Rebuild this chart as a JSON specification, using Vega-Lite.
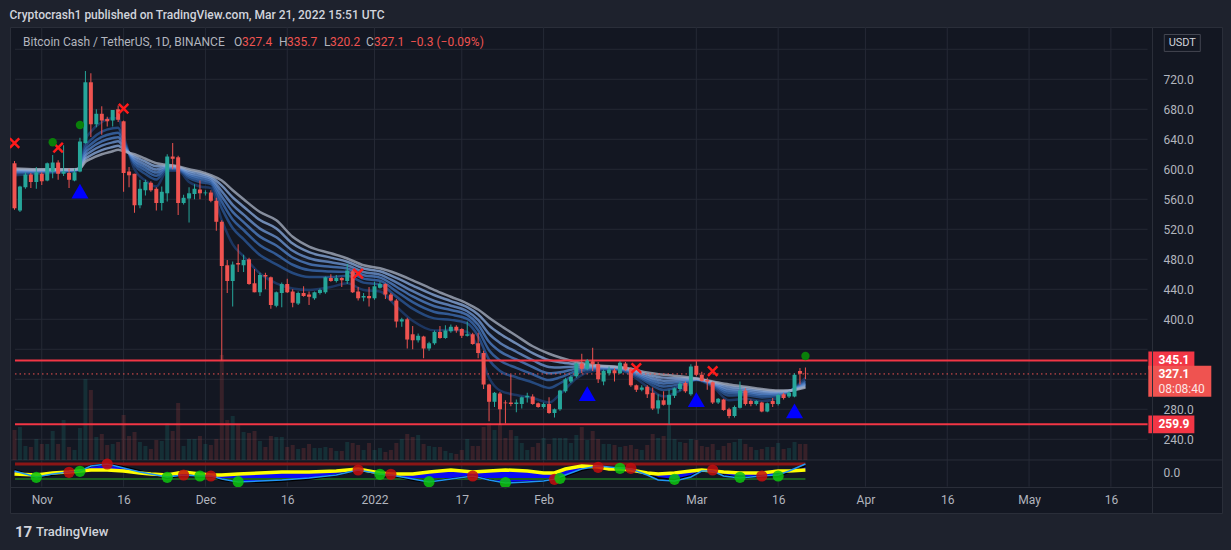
{
  "$schema": "https://vega.github.io/schema/vega-lite/v6.json",
  "width": 1212,
  "height": 486,
  "autosize": "none",
  "padding": {"left": 10, "top": 27, "right": 9, "bottom": 37},
  "background": "#1e222d",
  "title": {
    "text": "Cryptocrash1 published on TradingView.com, Mar 21, 2022 15:51 UTC",
    "anchor": "start", "color": "#d1d4dc", "font": "Roboto", "fontSize": 12, "fontWeight": 500, "offset": 8, "dy": 3
  },
  "config": {
    "font": "Roboto",
    "view": {"stroke": "#2a2e39", "fill": "#131722"}
  },
  "data": {"values": [{}]},
  "datasets": {
    "candles": [
      {"d":"2021-10-27","o":608,"h":611,"l":546,"c":548,"v":30},
      {"d":"2021-10-28","o":545,"h":578,"l":543,"c":577,"v":33},
      {"d":"2021-10-29","o":576,"h":596,"l":574,"c":593,"v":14},
      {"d":"2021-10-30","o":593,"h":595,"l":575,"c":583,"v":13},
      {"d":"2021-10-31","o":583,"h":603,"l":574,"c":596,"v":21},
      {"d":"2021-11-01","o":594,"h":596,"l":579,"c":584,"v":16},
      {"d":"2021-11-02","o":585,"h":609,"l":584,"c":608,"v":16},
      {"d":"2021-11-03","o":597,"h":619,"l":588,"c":609,"v":29},
      {"d":"2021-11-04","o":609,"h":612,"l":586,"c":594,"v":16},
      {"d":"2021-11-05","o":594,"h":632,"l":591,"c":597,"v":40},
      {"d":"2021-11-06","o":595,"h":601,"l":575,"c":586,"v":13},
      {"d":"2021-11-07","o":585,"h":601,"l":584,"c":596,"v":10},
      {"d":"2021-11-08","o":597,"h":642,"l":596,"c":637,"v":32},
      {"d":"2021-11-09","o":635,"h":731,"l":634,"c":716,"v":81},
      {"d":"2021-11-10","o":716,"h":728,"l":643,"c":660,"v":70},
      {"d":"2021-11-11","o":660,"h":680,"l":656,"c":674,"v":23},
      {"d":"2021-11-12","o":674,"h":684,"l":646,"c":665,"v":26},
      {"d":"2021-11-13","o":667,"h":670,"l":657,"c":664,"v":15},
      {"d":"2021-11-14","o":665,"h":679,"l":657,"c":679,"v":16},
      {"d":"2021-11-15","o":680,"h":685,"l":663,"c":666,"v":18},
      {"d":"2021-11-16","o":664,"h":665,"l":570,"c":595,"v":45},
      {"d":"2021-11-17","o":597,"h":603,"l":576,"c":592,"v":24},
      {"d":"2021-11-18","o":594,"h":594,"l":542,"c":552,"v":28},
      {"d":"2021-11-19","o":552,"h":586,"l":548,"c":574,"v":18},
      {"d":"2021-11-20","o":572,"h":586,"l":565,"c":583,"v":14},
      {"d":"2021-11-21","o":582,"h":584,"l":570,"c":572,"v":11},
      {"d":"2021-11-22","o":574,"h":576,"l":545,"c":555,"v":20},
      {"d":"2021-11-23","o":555,"h":577,"l":545,"c":570,"v":19},
      {"d":"2021-11-24","o":568,"h":620,"l":557,"c":617,"v":37},
      {"d":"2021-11-25","o":617,"h":635,"l":600,"c":614,"v":29},
      {"d":"2021-11-26","o":616,"h":618,"l":539,"c":555,"v":57},
      {"d":"2021-11-27","o":555,"h":566,"l":553,"c":562,"v":14},
      {"d":"2021-11-28","o":561,"h":576,"l":529,"c":568,"v":21},
      {"d":"2021-11-29","o":567,"h":580,"l":560,"c":574,"v":21},
      {"d":"2021-11-30","o":573,"h":585,"l":560,"c":568,"v":24},
      {"d":"2021-12-01","o":568,"h":572,"l":565,"c":569,"v":16},
      {"d":"2021-12-02","o":569,"h":572,"l":556,"c":558,"v":15},
      {"d":"2021-12-03","o":558,"h":562,"l":518,"c":530,"v":21},
      {"d":"2021-12-04","o":530,"h":532,"l":345,"c":471,"v":105},
      {"d":"2021-12-05","o":472,"h":479,"l":435,"c":451,"v":40},
      {"d":"2021-12-06","o":451,"h":477,"l":417,"c":473,"v":44},
      {"d":"2021-12-07","o":475,"h":500,"l":463,"c":473,"v":35},
      {"d":"2021-12-08","o":472,"h":486,"l":463,"c":479,"v":28},
      {"d":"2021-12-09","o":480,"h":482,"l":446,"c":447,"v":27},
      {"d":"2021-12-10","o":448,"h":467,"l":436,"c":436,"v":29},
      {"d":"2021-12-11","o":436,"h":462,"l":431,"c":459,"v":19},
      {"d":"2021-12-12","o":459,"h":462,"l":440,"c":457,"v":13},
      {"d":"2021-12-13","o":456,"h":457,"l":414,"c":419,"v":24},
      {"d":"2021-12-14","o":418,"h":437,"l":416,"c":436,"v":23},
      {"d":"2021-12-15","o":435,"h":449,"l":416,"c":447,"v":23},
      {"d":"2021-12-16","o":447,"h":454,"l":435,"c":436,"v":13},
      {"d":"2021-12-17","o":437,"h":440,"l":416,"c":422,"v":15},
      {"d":"2021-12-18","o":421,"h":437,"l":419,"c":435,"v":11},
      {"d":"2021-12-19","o":435,"h":444,"l":430,"c":431,"v":12},
      {"d":"2021-12-20","o":433,"h":437,"l":419,"c":430,"v":16},
      {"d":"2021-12-21","o":428,"h":437,"l":426,"c":436,"v":12},
      {"d":"2021-12-22","o":435,"h":441,"l":433,"c":439,"v":12},
      {"d":"2021-12-23","o":436,"h":457,"l":434,"c":456,"v":13},
      {"d":"2021-12-24","o":455,"h":460,"l":450,"c":451,"v":12},
      {"d":"2021-12-25","o":451,"h":459,"l":449,"c":455,"v":9},
      {"d":"2021-12-26","o":455,"h":456,"l":443,"c":452,"v":9},
      {"d":"2021-12-27","o":451,"h":474,"l":447,"c":465,"v":18},
      {"d":"2021-12-28","o":464,"h":466,"l":435,"c":436,"v":17},
      {"d":"2021-12-29","o":437,"h":443,"l":425,"c":428,"v":15},
      {"d":"2021-12-30","o":429,"h":435,"l":424,"c":431,"v":10},
      {"d":"2021-12-31","o":431,"h":443,"l":417,"c":428,"v":17},
      {"d":"2022-01-01","o":428,"h":450,"l":426,"c":444,"v":10},
      {"d":"2022-01-02","o":442,"h":450,"l":441,"c":447,"v":12},
      {"d":"2022-01-03","o":447,"h":448,"l":427,"c":433,"v":8},
      {"d":"2022-01-04","o":433,"h":435,"l":424,"c":425,"v":10},
      {"d":"2022-01-05","o":425,"h":427,"l":389,"c":397,"v":17},
      {"d":"2022-01-06","o":397,"h":402,"l":390,"c":400,"v":21},
      {"d":"2022-01-07","o":400,"h":402,"l":361,"c":373,"v":26},
      {"d":"2022-01-08","o":380,"h":391,"l":360,"c":372,"v":23},
      {"d":"2022-01-09","o":372,"h":381,"l":369,"c":378,"v":25},
      {"d":"2022-01-10","o":377,"h":378,"l":348,"c":361,"v":16},
      {"d":"2022-01-11","o":361,"h":370,"l":358,"c":368,"v":14},
      {"d":"2022-01-12","o":368,"h":385,"l":366,"c":383,"v":13},
      {"d":"2022-01-13","o":383,"h":391,"l":374,"c":375,"v":13},
      {"d":"2022-01-14","o":375,"h":392,"l":374,"c":385,"v":9},
      {"d":"2022-01-15","o":384,"h":393,"l":382,"c":390,"v":7},
      {"d":"2022-01-16","o":390,"h":392,"l":382,"c":385,"v":6},
      {"d":"2022-01-17","o":387,"h":388,"l":375,"c":378,"v":10},
      {"d":"2022-01-18","o":378,"h":397,"l":377,"c":380,"v":21},
      {"d":"2022-01-19","o":380,"h":382,"l":366,"c":367,"v":14},
      {"d":"2022-01-20","o":368,"h":382,"l":348,"c":355,"v":14},
      {"d":"2022-01-21","o":355,"h":358,"l":307,"c":313,"v":33},
      {"d":"2022-01-22","o":313,"h":314,"l":264,"c":290,"v":37},
      {"d":"2022-01-23","o":290,"h":303,"l":283,"c":302,"v":30},
      {"d":"2022-01-24","o":301,"h":303,"l":259,"c":280,"v":35},
      {"d":"2022-01-25","o":289,"h":292,"l":261,"c":288,"v":22},
      {"d":"2022-01-26","o":289,"h":326,"l":284,"c":287,"v":30},
      {"d":"2022-01-27","o":287,"h":293,"l":276,"c":289,"v":24},
      {"d":"2022-01-28","o":287,"h":297,"l":281,"c":296,"v":17},
      {"d":"2022-01-29","o":296,"h":302,"l":289,"c":298,"v":10},
      {"d":"2022-01-30","o":297,"h":300,"l":286,"c":287,"v":13},
      {"d":"2022-01-31","o":288,"h":289,"l":282,"c":283,"v":17},
      {"d":"2022-02-01","o":283,"h":289,"l":281,"c":287,"v":22},
      {"d":"2022-02-02","o":287,"h":296,"l":274,"c":275,"v":16},
      {"d":"2022-02-03","o":275,"h":281,"l":269,"c":280,"v":22},
      {"d":"2022-02-04","o":280,"h":306,"l":278,"c":305,"v":22},
      {"d":"2022-02-05","o":304,"h":322,"l":302,"c":320,"v":22},
      {"d":"2022-02-06","o":317,"h":325,"l":315,"c":323,"v":17},
      {"d":"2022-02-07","o":324,"h":342,"l":322,"c":341,"v":25},
      {"d":"2022-02-08","o":341,"h":354,"l":328,"c":334,"v":33},
      {"d":"2022-02-09","o":334,"h":347,"l":332,"c":345,"v":20},
      {"d":"2022-02-10","o":344,"h":362,"l":331,"c":340,"v":29},
      {"d":"2022-02-11","o":340,"h":343,"l":315,"c":320,"v":21},
      {"d":"2022-02-12","o":317,"h":333,"l":312,"c":331,"v":16},
      {"d":"2022-02-13","o":328,"h":337,"l":325,"c":333,"v":16},
      {"d":"2022-02-14","o":332,"h":335,"l":317,"c":328,"v":15},
      {"d":"2022-02-15","o":328,"h":344,"l":327,"c":342,"v":13},
      {"d":"2022-02-16","o":341,"h":343,"l":331,"c":333,"v":14},
      {"d":"2022-02-17","o":334,"h":336,"l":310,"c":312,"v":15},
      {"d":"2022-02-18","o":312,"h":313,"l":303,"c":306,"v":11},
      {"d":"2022-02-19","o":306,"h":312,"l":304,"c":309,"v":10},
      {"d":"2022-02-20","o":310,"h":312,"l":295,"c":300,"v":15},
      {"d":"2022-02-21","o":302,"h":309,"l":279,"c":281,"v":26},
      {"d":"2022-02-22","o":281,"h":300,"l":274,"c":292,"v":22},
      {"d":"2022-02-23","o":292,"h":304,"l":285,"c":286,"v":24},
      {"d":"2022-02-24","o":286,"h":306,"l":260,"c":299,"v":35},
      {"d":"2022-02-25","o":298,"h":309,"l":295,"c":308,"v":21},
      {"d":"2022-02-26","o":307,"h":317,"l":304,"c":314,"v":18},
      {"d":"2022-02-27","o":315,"h":317,"l":302,"c":304,"v":17},
      {"d":"2022-02-28","o":300,"h":340,"l":298,"c":337,"v":21},
      {"d":"2022-03-01","o":338,"h":344,"l":324,"c":326,"v":20},
      {"d":"2022-03-02","o":326,"h":330,"l":317,"c":318,"v":14},
      {"d":"2022-03-03","o":319,"h":322,"l":306,"c":317,"v":13},
      {"d":"2022-03-04","o":316,"h":317,"l":287,"c":289,"v":16},
      {"d":"2022-03-05","o":289,"h":295,"l":287,"c":294,"v":10},
      {"d":"2022-03-06","o":293,"h":294,"l":278,"c":279,"v":14},
      {"d":"2022-03-07","o":280,"h":282,"l":268,"c":271,"v":17},
      {"d":"2022-03-08","o":271,"h":285,"l":269,"c":283,"v":18},
      {"d":"2022-03-09","o":282,"h":317,"l":281,"c":305,"v":21},
      {"d":"2022-03-10","o":305,"h":308,"l":285,"c":287,"v":16},
      {"d":"2022-03-11","o":291,"h":293,"l":284,"c":287,"v":13},
      {"d":"2022-03-12","o":287,"h":292,"l":285,"c":291,"v":10},
      {"d":"2022-03-13","o":289,"h":290,"l":276,"c":277,"v":11},
      {"d":"2022-03-14","o":277,"h":289,"l":276,"c":288,"v":13},
      {"d":"2022-03-15","o":291,"h":295,"l":283,"c":287,"v":13},
      {"d":"2022-03-16","o":287,"h":301,"l":285,"c":299,"v":17},
      {"d":"2022-03-17","o":300,"h":302,"l":293,"c":295,"v":11},
      {"d":"2022-03-18","o":297,"h":304,"l":295,"c":302,"v":12},
      {"d":"2022-03-19","o":297,"h":328,"l":296,"c":326,"v":18},
      {"d":"2022-03-20","o":331,"h":335,"l":313,"c":327.4,"v":16},
      {"d":"2022-03-21","o":327.4,"h":335.7,"l":320.2,"c":327.1,"v":16}
    ],
    "ribbon": [
      {"d":"2021-10-27","e1":592,"e2":594.7,"e3":596.1,"e4":597.4,"e5":598.6,"e6":599.8,"e7":601},
      {"d":"2021-10-31","e1":594,"e2":595.8,"e3":596.8,"e4":597.6,"e5":598.4,"e6":599.2,"e7":600},
      {"d":"2021-11-04","e1":596,"e2":597.2,"e3":597.8,"e4":598.4,"e5":598.9,"e6":599.5,"e7":600},
      {"d":"2021-11-07","e1":597,"e2":597.9,"e3":598.4,"e4":598.8,"e5":599.2,"e6":599.6,"e7":600},
      {"d":"2021-11-08","e1":603,"e2":602.4,"e3":602.1,"e4":601.8,"e5":601.5,"e6":601.3,"e7":601},
      {"d":"2021-11-09","e1":639,"e2":630.3,"e3":625.7,"e4":621.6,"e5":617.8,"e6":613.8,"e7":610},
      {"d":"2021-11-10","e1":650,"e2":639.2,"e3":633.4,"e4":628.4,"e5":623.7,"e6":618.7,"e7":614},
      {"d":"2021-11-12","e1":663,"e2":650.1,"e3":643.2,"e4":637.2,"e5":631.6,"e6":625.6,"e7":620},
      {"d":"2021-11-14","e1":668,"e2":654.8,"e3":647.8,"e4":641.6,"e5":635.9,"e6":629.7,"e7":624},
      {"d":"2021-11-15","e1":668,"e2":655.4,"e3":648.7,"e4":642.8,"e5":637.3,"e6":631.5,"e7":626},
      {"d":"2021-11-16","e1":645,"e2":638.7,"e3":635.3,"e4":632.4,"e5":629.7,"e6":626.7,"e7":624},
      {"d":"2021-11-18","e1":600,"e2":606,"e3":609.2,"e4":612,"e5":614.6,"e6":617.4,"e7":620},
      {"d":"2021-11-20","e1":585,"e2":593.7,"e3":598.3,"e4":602.4,"e5":606.2,"e6":610.2,"e7":614},
      {"d":"2021-11-22","e1":577,"e2":586.3,"e3":591.3,"e4":595.6,"e5":599.6,"e6":604,"e7":608},
      {"d":"2021-11-24","e1":598,"e2":600.4,"e3":601.7,"e4":602.8,"e5":603.8,"e6":605,"e7":606},
      {"d":"2021-11-26","e1":598,"e2":599.8,"e3":600.8,"e4":601.6,"e5":602.4,"e6":603.2,"e7":604},
      {"d":"2021-11-28","e1":583,"e2":588.1,"e3":590.8,"e4":593.2,"e5":595.4,"e6":597.8,"e7":600},
      {"d":"2021-11-30","e1":577,"e2":583,"e3":586.2,"e4":589,"e5":591.6,"e6":594.4,"e7":597},
      {"d":"2021-12-02","e1":575,"e2":580.1,"e3":582.8,"e4":585.2,"e5":587.4,"e6":589.8,"e7":592},
      {"d":"2021-12-04","e1":532,"e2":547.9,"e3":556.4,"e4":563.8,"e5":570.7,"e6":578.1,"e7":585},
      {"d":"2021-12-06","e1":500,"e2":521.6,"e3":533.1,"e4":543.2,"e5":552.6,"e6":562.6,"e7":572},
      {"d":"2021-12-08","e1":484,"e2":506.8,"e3":519,"e4":529.6,"e5":539.5,"e6":550.1,"e7":560},
      {"d":"2021-12-11","e1":461,"e2":485.6,"e3":498.7,"e4":510.2,"e5":520.9,"e6":532.3,"e7":543},
      {"d":"2021-12-14","e1":448,"e2":473.2,"e3":486.6,"e4":498.4,"e5":509.3,"e6":521.1,"e7":532},
      {"d":"2021-12-17","e1":441,"e2":461.7,"e3":472.7,"e4":482.4,"e5":491.4,"e6":501,"e7":510},
      {"d":"2021-12-20","e1":439,"e2":456.4,"e3":465.7,"e4":473.8,"e5":481.3,"e6":489.5,"e7":497},
      {"d":"2021-12-24","e1":443,"e2":456.5,"e3":463.7,"e4":470,"e5":475.9,"e6":482.2,"e7":488},
      {"d":"2021-12-27","e1":448,"e2":457.9,"e3":463.2,"e4":467.8,"e5":472.1,"e6":476.7,"e7":481},
      {"d":"2021-12-30","e1":439,"e2":448.9,"e3":454.2,"e4":458.8,"e5":463.1,"e6":467.7,"e7":472},
      {"d":"2022-01-02","e1":437,"e2":446.3,"e3":451.3,"e4":455.6,"e5":459.6,"e6":464,"e7":468},
      {"d":"2022-01-05","e1":417,"e2":430.2,"e3":437.2,"e4":443.4,"e5":449.1,"e6":455.3,"e7":461},
      {"d":"2022-01-08","e1":398,"e2":414.2,"e3":422.8,"e4":430.4,"e5":437.4,"e6":445,"e7":452},
      {"d":"2022-01-12","e1":385,"e2":401.2,"e3":409.8,"e4":417.4,"e5":424.4,"e6":432,"e7":439},
      {"d":"2022-01-15","e1":386,"e2":399.2,"e3":406.2,"e4":412.4,"e5":418.1,"e6":424.3,"e7":430},
      {"d":"2022-01-18","e1":383,"e2":394.4,"e3":400.5,"e4":405.8,"e5":410.7,"e6":416.1,"e7":421},
      {"d":"2022-01-20","e1":362,"e2":377.3,"e3":385.5,"e4":392.6,"e5":399.2,"e6":406.4,"e7":413},
      {"d":"2022-01-22","e1":322,"e2":346,"e3":358.8,"e4":370,"e5":380.4,"e6":391.6,"e7":402},
      {"d":"2022-01-24","e1":305,"e2":331.1,"e3":345,"e4":357.2,"e5":368.5,"e6":380.7,"e7":392},
      {"d":"2022-01-27","e1":299,"e2":322.7,"e3":335.3,"e4":346.4,"e5":356.7,"e6":367.7,"e7":378},
      {"d":"2022-01-30","e1":295,"e2":315.7,"e3":326.7,"e4":336.4,"e5":345.4,"e6":355,"e7":364},
      {"d":"2022-02-02","e1":289,"e2":308.5,"e3":318.9,"e4":328,"e5":336.5,"e6":345.6,"e7":354},
      {"d":"2022-02-04","e1":300,"e2":314.7,"e3":322.5,"e4":329.4,"e5":335.8,"e6":342.6,"e7":349},
      {"d":"2022-02-07","e1":321,"e2":327.6,"e3":331.1,"e4":334.2,"e5":337.1,"e6":340.1,"e7":343},
      {"d":"2022-02-10","e1":331,"e2":333.4,"e3":334.7,"e4":335.8,"e5":336.8,"e6":338,"e7":339},
      {"d":"2022-02-14","e1":333,"e2":334.2,"e3":334.8,"e4":335.4,"e5":335.9,"e6":336.5,"e7":337},
      {"d":"2022-02-17","e1":326,"e2":328.4,"e3":329.7,"e4":330.8,"e5":331.8,"e6":333,"e7":334},
      {"d":"2022-02-20","e1":310,"e2":315.7,"e3":318.7,"e4":321.4,"e5":323.9,"e6":326.5,"e7":329},
      {"d":"2022-02-23","e1":297,"e2":305.7,"e3":310.3,"e4":314.4,"e5":318.2,"e6":322.2,"e7":326},
      {"d":"2022-02-26","e1":305,"e2":310.7,"e3":313.7,"e4":316.4,"e5":318.9,"e6":321.5,"e7":324},
      {"d":"2022-03-01","e1":319,"e2":319.6,"e3":319.9,"e4":320.2,"e5":320.5,"e6":320.7,"e7":321},
      {"d":"2022-03-04","e1":310,"e2":312.1,"e3":313.2,"e4":314.2,"e5":315.1,"e6":316.1,"e7":317},
      {"d":"2022-03-07","e1":292,"e2":298.3,"e3":301.7,"e4":304.6,"e5":307.3,"e6":310.3,"e7":313},
      {"d":"2022-03-10","e1":294,"e2":298.8,"e3":301.4,"e4":303.6,"e5":305.7,"e6":307.9,"e7":310},
      {"d":"2022-03-13","e1":291,"e2":295.8,"e3":298.4,"e4":300.6,"e5":302.7,"e6":304.9,"e7":307},
      {"d":"2022-03-16","e1":295,"e2":298,"e3":299.6,"e4":301,"e5":302.3,"e6":303.7,"e7":305},
      {"d":"2022-03-18","e1":303,"e2":303.6,"e3":303.9,"e4":304.2,"e5":304.5,"e6":304.7,"e7":305},
      {"d":"2022-03-21","e1":322,"e2":318.1,"e3":316,"e4":314.2,"e5":312.5,"e6":310.7,"e7":309}
    ],
    "osc": [
      {"d":"2021-10-27","yel":-2,"blu":2,"lb":1},
      {"d":"2021-10-31","yel":-3,"blu":-5,"lb":-5},
      {"d":"2021-11-03","yel":-1,"blu":-3,"lb":-2},
      {"d":"2021-11-06","yel":0,"blu":-1,"lb":0},
      {"d":"2021-11-08","yel":1,"blu":1,"lb":1},
      {"d":"2021-11-10","yel":2,"blu":6,"lb":6},
      {"d":"2021-11-13","yel":2,"blu":8,"lb":8},
      {"d":"2021-11-16","yel":1,"blu":5,"lb":4},
      {"d":"2021-11-19","yel":-1,"blu":1,"lb":0},
      {"d":"2021-11-21","yel":-2,"blu":-2,"lb":-2},
      {"d":"2021-11-24","yel":-3,"blu":-6,"lb":-5},
      {"d":"2021-11-27","yel":0,"blu":-3,"lb":-3},
      {"d":"2021-11-30","yel":-2,"blu":-4,"lb":-4},
      {"d":"2021-12-02","yel":-3,"blu":-4,"lb":-4},
      {"d":"2021-12-04","yel":-3,"blu":-8,"lb":-7},
      {"d":"2021-12-07","yel":-2,"blu":-10,"lb":-10},
      {"d":"2021-12-11","yel":-1,"blu":-10,"lb":-9},
      {"d":"2021-12-15","yel":0,"blu":-9,"lb":-8},
      {"d":"2021-12-20","yel":0,"blu":-7,"lb":-6},
      {"d":"2021-12-25","yel":1,"blu":-3,"lb":-3},
      {"d":"2021-12-29","yel":3,"blu":2,"lb":2},
      {"d":"2022-01-02","yel":-1,"blu":-2,"lb":-2},
      {"d":"2022-01-04","yel":-2,"blu":-3,"lb":-3},
      {"d":"2022-01-08","yel":-2,"blu":-8,"lb":-7},
      {"d":"2022-01-11","yel":0,"blu":-10,"lb":-10},
      {"d":"2022-01-15","yel":2,"blu":-7,"lb":-7},
      {"d":"2022-01-19","yel":0,"blu":-4,"lb":-4},
      {"d":"2022-01-22","yel":1,"blu":-8,"lb":-8},
      {"d":"2022-01-25","yel":2,"blu":-11,"lb":-11},
      {"d":"2022-01-29","yel":1,"blu":-10,"lb":-10},
      {"d":"2022-02-01","yel":-1,"blu":-9,"lb":-9},
      {"d":"2022-02-03","yel":-1,"blu":-7,"lb":-7},
      {"d":"2022-02-05","yel":3,"blu":-4,"lb":-3},
      {"d":"2022-02-08","yel":6,"blu":2,"lb":3},
      {"d":"2022-02-11","yel":5,"blu":5,"lb":6},
      {"d":"2022-02-13","yel":3,"blu":5,"lb":5},
      {"d":"2022-02-15","yel":3,"blu":4,"lb":4},
      {"d":"2022-02-17","yel":2,"blu":3,"lb":3},
      {"d":"2022-02-20","yel":-1,"blu":-2,"lb":-3},
      {"d":"2022-02-22","yel":-2,"blu":-6,"lb":-8},
      {"d":"2022-02-25","yel":-1,"blu":-8,"lb":-9},
      {"d":"2022-02-28","yel":1,"blu":-4,"lb":-5},
      {"d":"2022-03-02","yel":2,"blu":1,"lb":1},
      {"d":"2022-03-04","yel":1,"blu":2,"lb":1},
      {"d":"2022-03-06","yel":0,"blu":-3,"lb":-4},
      {"d":"2022-03-09","yel":-1,"blu":-6,"lb":-6},
      {"d":"2022-03-13","yel":-1,"blu":-4,"lb":-4},
      {"d":"2022-03-16","yel":1,"blu":-4,"lb":-3},
      {"d":"2022-03-18","yel":1,"blu":0,"lb":1},
      {"d":"2022-03-21","yel":2,"blu":6,"lb":8}
    ],
    "oscsig": [
      {"d":"2021-10-31","v":-5.3,"s":"b"},{"d":"2021-11-06","v":-0.3,"s":"s"},{"d":"2021-11-08","v":0.7,"s":"b"},
      {"d":"2021-11-13","v":8,"s":"s"},{"d":"2021-11-24","v":-5.3,"s":"b"},{"d":"2021-11-27","v":-3,"s":"s"},
      {"d":"2021-11-30","v":-4,"s":"b"},{"d":"2021-12-02","v":-4,"s":"s"},{"d":"2021-12-07","v":-9.7,"s":"b"},
      {"d":"2021-12-29","v":2,"s":"s"},{"d":"2022-01-02","v":-2.3,"s":"b"},{"d":"2022-01-04","v":-2.3,"s":"s"},
      {"d":"2022-01-11","v":-9.7,"s":"b"},{"d":"2022-01-19","v":-4,"s":"s"},{"d":"2022-01-25","v":-10.7,"s":"b"},
      {"d":"2022-02-03","v":-7.3,"s":"s"},{"d":"2022-02-04","v":-6.3,"s":"b"},{"d":"2022-02-11","v":4.7,"s":"s"},
      {"d":"2022-02-15","v":3.7,"s":"b"},{"d":"2022-02-17","v":3.7,"s":"s"},{"d":"2022-02-25","v":-7.3,"s":"b"},
      {"d":"2022-03-04","v":2,"s":"s"},{"d":"2022-03-09","v":-5.3,"s":"b"},{"d":"2022-03-13","v":-4,"s":"s"},
      {"d":"2022-03-16","v":-4,"s":"b"}
    ],
    "signals": [
      {"d":"2021-10-27","p":635,"k":"x"},{"d":"2021-11-04","p":629,"k":"x"},{"d":"2021-11-16","p":681,"k":"x"},
      {"d":"2021-12-29","p":461,"k":"x"},{"d":"2022-02-18","p":335,"k":"x"},{"d":"2022-03-04","p":331,"k":"x"},
      {"d":"2021-11-03","p":636,"k":"dot"},{"d":"2021-11-08","p":659,"k":"dot"},{"d":"2022-03-21","p":351,"k":"dot"},
      {"d":"2021-11-08","p":571,"k":"tri"},{"d":"2022-02-09","p":301,"k":"tri"},{"d":"2022-03-01","p":293,"k":"tri"},
      {"d":"2022-03-19","p":278,"k":"tri"}
    ],
    "tags": [
      {"p":345.1,"t":"345.1","k":"sr"},
      {"p":259.9,"t":"259.9","k":"sr"},
      {"p":327.1,"t":"327.1","k":"last","cd":"08:08:40"}
    ],
    "ticks": [
      {"t":"2021-11-01"},{"t":"2021-11-16"},{"t":"2021-12-01"},{"t":"2021-12-16"},{"t":"2022-01-01"},
      {"t":"2022-01-17"},{"t":"2022-02-01"},{"t":"2022-03-01"},{"t":"2022-03-16"},{"t":"2022-04-01"},
      {"t":"2022-04-16"},{"t":"2022-05-01"},{"t":"2022-05-16"}
    ],
    "pgrid": [
      {"p":240},{"p":280},{"p":320},{"p":360},{"p":400},{"p":440},{"p":480},
      {"p":520},{"p":560},{"p":600},{"p":640},{"p":680},{"p":720},{"p":760}
    ]
  },
  "layer": [
    {
      "layer": [
        {
          "data": {"name": "pgrid"},
          "mark": {"type": "rule", "color": "#252935", "strokeWidth": 1},
          "encoding": {
            "y": {
              "field": "p", "type": "quantitative",
              "scale": {"domain": [141.7, 789.7], "nice": false, "zero": false},
              "axis": {
                "orient": "right", "offset": -70, "title": null, "zindex": 1,
                "values": [240, 280, 400, 440, 480, 520, 560, 600, 640, 680, 720],
                "format": ".1f", "grid": false, "ticks": false, "labelPadding": 11,
                "labelColor": "#b2b5be", "labelFontSize": 12, "labelFont": "Roboto",
                "domainColor": "#2a2e39", "labelFlush": false, "labelOverlap": false
              }
            },
            "x": {"datum": {"year": 2021, "month": 10, "date": 27, "hours": 2, "minutes": 11, "utc": true}, "type": "temporal"},
            "x2": {"datum": {"year": 2022, "month": 5, "date": 22, "hours": 17, "minutes": 27, "utc": true}}
          }
        },
        {
          "data": {"name": "ticks"},
          "mark": {"type": "rule", "color": "#252935", "strokeWidth": 1},
          "encoding": {
            "x": {
              "field": "t", "type": "temporal",
              "scale": {
                "type": "utc",
                "domain": [
                  {"year": 2021, "month": 10, "date": 27, "hours": 2, "minutes": 11, "utc": true},
                  {"year": 2022, "month": 6, "date": 4, "hours": 10, "minutes": 55, "utc": true}
                ]
              },
              "axis": {
                "orient": "bottom", "offset": -26, "title": null, "grid": false, "zindex": 1,
                "ticks": false, "labelPadding": 7,
                "values": [
                  {"year": 2021, "month": 11, "date": 1, "utc": true},
                  {"year": 2021, "month": 11, "date": 16, "utc": true},
                  {"year": 2021, "month": 12, "date": 1, "utc": true},
                  {"year": 2021, "month": 12, "date": 16, "utc": true},
                  {"year": 2022, "month": 1, "date": 1, "utc": true},
                  {"year": 2022, "month": 1, "date": 17, "utc": true},
                  {"year": 2022, "month": 2, "date": 1, "utc": true},
                  {"year": 2022, "month": 3, "date": 1, "utc": true},
                  {"year": 2022, "month": 3, "date": 16, "utc": true},
                  {"year": 2022, "month": 4, "date": 1, "utc": true},
                  {"year": 2022, "month": 4, "date": 16, "utc": true},
                  {"year": 2022, "month": 5, "date": 1, "utc": true},
                  {"year": 2022, "month": 5, "date": 16, "utc": true}
                ],
                "labelExpr": "utcdate(datum.value) == 1 ? (utcmonth(datum.value) == 0 ? utcFormat(datum.value, '%Y') : utcFormat(datum.value, '%b')) : utcFormat(datum.value, '%-d')",
                "labelColor": "#b2b5be", "labelFontSize": 12, "labelFont": "Roboto",
                "domainColor": "#2a2e39", "labelFlush": false, "labelOverlap": false
              }
            },
            "y": {"datum": 789.7},
            "y2": {"datum": 176.8}
          }
        },
        {
          "mark": {"type": "rule", "color": "#2a2e39", "strokeWidth": 1},
          "encoding": {"y": {"datum": 212.4}}
        }
      ]
    },
    {
      "layer": [
        {
          "data": {"name": "candles"},
          "mark": {"type": "bar", "size": 4, "opacity": 0.17, "clip": true},
          "encoding": {
            "x": {"field": "d", "type": "temporal"},
            "y": {"field": "v", "type": "quantitative", "scale": {"domain": [-53, 433], "nice": false, "zero": false}, "axis": null},
            "color": {"condition": {"test": "datum.c >= datum.o", "value": "#26a69a"}, "value": "#ef5350"}
          }
        }
      ]
    },
    {
      "layer": [
        {
          "data": {"name": "ribbon"},
          "transform": [{"fold": ["e1", "e2", "e3", "e4", "e5", "e6", "e7"], "as": ["k", "val"]}],
          "mark": {"type": "line", "strokeWidth": 2.5, "opacity": 0.8, "interpolate": "monotone", "clip": true},
          "encoding": {
            "x": {"field": "d", "type": "temporal"},
            "y": {"field": "val", "type": "quantitative", "scale": {"domain": [141.7, 789.7], "nice": false, "zero": false}, "axis": null},
            "color": {
              "field": "k", "type": "nominal", "legend": null,
              "scale": {
                "domain": ["e1", "e2", "e3", "e4", "e5", "e6", "e7"],
                "range": ["#1f3f72", "#2b5696", "#3b6bb2", "#4f7ec4", "#6a92cf", "#86a6d8", "#a3abbd"]
              }
            }
          }
        },
        {
          "data": {"name": "tags"},
          "transform": [{"filter": "datum.k == 'sr'"}],
          "mark": {"type": "rule", "color": "#f23645", "strokeWidth": 2},
          "encoding": {
            "y": {"field": "p", "type": "quantitative", "axis": null},
            "x": {"datum": {"year": 2021, "month": 10, "date": 27, "hours": 2, "minutes": 11, "utc": true}, "type": "temporal"},
            "x2": {"datum": {"year": 2022, "month": 5, "date": 22, "hours": 17, "minutes": 27, "utc": true}}
          }
        },
        {
          "data": {"name": "tags"},
          "transform": [{"filter": "datum.k == 'last'"}],
          "mark": {"type": "rule", "color": "#ef5350", "strokeWidth": 1, "strokeDash": [1.5, 3]},
          "encoding": {
            "y": {"field": "p", "type": "quantitative", "axis": null},
            "x": {"datum": {"year": 2021, "month": 10, "date": 27, "hours": 2, "minutes": 11, "utc": true}, "type": "temporal"},
            "x2": {"datum": {"year": 2022, "month": 5, "date": 22, "hours": 17, "minutes": 27, "utc": true}}
          }
        },
        {
          "data": {"name": "candles"},
          "mark": {"type": "rule", "strokeWidth": 1, "clip": true},
          "encoding": {
            "x": {"field": "d", "type": "temporal"},
            "y": {"field": "l", "type": "quantitative", "axis": null},
            "y2": {"field": "h"},
            "color": {"condition": {"test": "datum.c >= datum.o", "value": "#26a69a"}, "value": "#ef5350"}
          }
        },
        {
          "data": {"name": "candles"},
          "mark": {"type": "bar", "size": 4, "clip": true},
          "encoding": {
            "x": {"field": "d", "type": "temporal"},
            "y": {"field": "o", "type": "quantitative", "axis": null},
            "y2": {"field": "c"},
            "color": {"condition": {"test": "datum.c >= datum.o", "value": "#26a69a"}, "value": "#ef5350"}
          }
        },
        {
          "data": {"name": "signals"},
          "transform": [{"filter": "datum.k == 'x'"}],
          "mark": {"type": "point", "shape": "M-1,-1L1,1M-1,1L1,-1", "filled": false, "size": 90, "strokeWidth": 2.5, "color": "#ff1a1a", "opacity": 1, "clip": true},
          "encoding": {
            "x": {"field": "d", "type": "temporal"},
            "y": {"field": "p", "type": "quantitative", "axis": null}
          }
        },
        {
          "data": {"name": "signals"},
          "transform": [{"filter": "datum.k == 'dot'"}],
          "mark": {"type": "circle", "size": 70, "color": "#0a7f0a", "opacity": 1},
          "encoding": {
            "x": {"field": "d", "type": "temporal"},
            "y": {"field": "p", "type": "quantitative", "axis": null}
          }
        },
        {
          "data": {"name": "signals"},
          "transform": [{"filter": "datum.k == 'tri'"}],
          "mark": {"type": "point", "shape": "triangle-up", "filled": true, "size": 290, "color": "#0000ff", "opacity": 1},
          "encoding": {
            "x": {"field": "d", "type": "temporal"},
            "y": {"field": "p", "type": "quantitative", "axis": null}
          }
        },
        {
          "data": {"name": "tags"},
          "transform": [{"filter": "datum.k == 'sr'"}],
          "mark": {"type": "point", "shape": "M-1,-0.39L1,-0.39L1,0.39L-1,0.39Z", "filled": true, "size": 2116, "color": "#f23645", "opacity": 1},
          "encoding": {
            "y": {"field": "p", "type": "quantitative", "axis": null},
            "x": {"datum": {"year": 2022, "month": 5, "date": 27, "hours": 2, "minutes": 11, "utc": true}, "type": "temporal"}
          }
        },
        {
          "data": {"name": "tags"},
          "transform": [{"filter": "datum.k == 'last'"}],
          "mark": {"type": "point", "shape": "M-1,-0.26L1,-0.26L1,0.72L-1,0.72Z", "filled": true, "size": 3969, "color": "#ef5350", "opacity": 1},
          "encoding": {
            "y": {"field": "p", "type": "quantitative", "axis": null},
            "x": {"datum": {"year": 2022, "month": 5, "date": 28, "hours": 15, "minutes": 16, "utc": true}, "type": "temporal"}
          }
        },
        {
          "data": {"name": "tags"},
          "mark": {"type": "text", "align": "left", "baseline": "middle", "fontSize": 12, "fontWeight": "bold", "color": "#ffffff"},
          "encoding": {
            "y": {"field": "p", "type": "quantitative", "axis": null},
            "x": {"datum": {"year": 2022, "month": 5, "date": 24, "hours": 17, "minutes": 27, "utc": true}, "type": "temporal"},
            "text": {"field": "t"}
          }
        },
        {
          "data": {"name": "tags"},
          "transform": [{"filter": "datum.k == 'last'"}],
          "mark": {"type": "text", "align": "left", "baseline": "middle", "fontSize": 12, "dy": 15, "color": "#ffffff", "opacity": 0.85},
          "encoding": {
            "y": {"field": "p", "type": "quantitative", "axis": null},
            "x": {"datum": {"year": 2022, "month": 5, "date": 24, "hours": 17, "minutes": 27, "utc": true}, "type": "temporal"},
            "text": {"field": "cd"}
          }
        },
        {
          "mark": {"type": "point", "shape": "M-1,-0.47L1,-0.47L1,0.47L-1,0.47Z", "filled": false, "size": 1296, "fill": "#131722", "fillOpacity": 1, "stroke": "#434651", "strokeWidth": 1, "opacity": 1},
          "encoding": {
            "y": {"datum": 768.4, "axis": null},
            "x": {"datum": {"year": 2022, "month": 5, "date": 29, "hours": 2, "minutes": 11, "utc": true}, "type": "temporal"}
          }
        },
        {
          "mark": {"type": "text", "text": "USDT", "align": "center", "baseline": "middle", "fontSize": 11, "color": "#d1d4dc"},
          "encoding": {
            "y": {"datum": 768.4, "axis": null},
            "x": {"datum": {"year": 2022, "month": 5, "date": 29, "hours": 2, "minutes": 11, "utc": true}, "type": "temporal"}
          }
        },
        {
          "mark": {"type": "text", "text": "Bitcoin Cash / TetherUS, 1D, BINANCE", "align": "left", "baseline": "middle", "fontSize": 12, "dx": 8, "color": "#b2b5be"},
          "encoding": {
            "y": {"datum": 769.7, "axis": null},
            "x": {"datum": {"year": 2021, "month": 10, "date": 27, "hours": 2, "minutes": 11, "utc": true}, "type": "temporal"}
          }
        },
        {
          "mark": {"type": "text", "text": "O", "align": "left", "baseline": "middle", "fontSize": 12, "dx": 219, "color": "#b2b5be"},
          "encoding": {"y": {"datum": 769.7, "axis": null}, "x": {"datum": {"year": 2021, "month": 10, "date": 27, "hours": 2, "minutes": 11, "utc": true}, "type": "temporal"}}
        },
        {
          "mark": {"type": "text", "text": "327.4", "align": "left", "baseline": "middle", "fontSize": 12, "dx": 227, "color": "#ef5350"},
          "encoding": {"y": {"datum": 769.7, "axis": null}, "x": {"datum": {"year": 2021, "month": 10, "date": 27, "hours": 2, "minutes": 11, "utc": true}, "type": "temporal"}}
        },
        {
          "mark": {"type": "text", "text": "H", "align": "left", "baseline": "middle", "fontSize": 12, "dx": 264, "color": "#b2b5be"},
          "encoding": {"y": {"datum": 769.7, "axis": null}, "x": {"datum": {"year": 2021, "month": 10, "date": 27, "hours": 2, "minutes": 11, "utc": true}, "type": "temporal"}}
        },
        {
          "mark": {"type": "text", "text": "335.7", "align": "left", "baseline": "middle", "fontSize": 12, "dx": 272, "color": "#ef5350"},
          "encoding": {"y": {"datum": 769.7, "axis": null}, "x": {"datum": {"year": 2021, "month": 10, "date": 27, "hours": 2, "minutes": 11, "utc": true}, "type": "temporal"}}
        },
        {
          "mark": {"type": "text", "text": "L", "align": "left", "baseline": "middle", "fontSize": 12, "dx": 309, "color": "#b2b5be"},
          "encoding": {"y": {"datum": 769.7, "axis": null}, "x": {"datum": {"year": 2021, "month": 10, "date": 27, "hours": 2, "minutes": 11, "utc": true}, "type": "temporal"}}
        },
        {
          "mark": {"type": "text", "text": "320.2", "align": "left", "baseline": "middle", "fontSize": 12, "dx": 315, "color": "#ef5350"},
          "encoding": {"y": {"datum": 769.7, "axis": null}, "x": {"datum": {"year": 2021, "month": 10, "date": 27, "hours": 2, "minutes": 11, "utc": true}, "type": "temporal"}}
        },
        {
          "mark": {"type": "text", "text": "C", "align": "left", "baseline": "middle", "fontSize": 12, "dx": 351, "color": "#b2b5be"},
          "encoding": {"y": {"datum": 769.7, "axis": null}, "x": {"datum": {"year": 2021, "month": 10, "date": 27, "hours": 2, "minutes": 11, "utc": true}, "type": "temporal"}}
        },
        {
          "mark": {"type": "text", "text": "327.1", "align": "left", "baseline": "middle", "fontSize": 12, "dx": 359, "color": "#ef5350"},
          "encoding": {"y": {"datum": 769.7, "axis": null}, "x": {"datum": {"year": 2021, "month": 10, "date": 27, "hours": 2, "minutes": 11, "utc": true}, "type": "temporal"}}
        },
        {
          "mark": {"type": "text", "text": "−0.3 (−0.09%)", "align": "left", "baseline": "middle", "fontSize": 12, "dx": 395, "color": "#ef5350"},
          "encoding": {"y": {"datum": 769.7, "axis": null}, "x": {"datum": {"year": 2021, "month": 10, "date": 27, "hours": 2, "minutes": 11, "utc": true}, "type": "temporal"}}
        },
        {
          "mark": {"type": "text", "text": "17", "align": "left", "baseline": "middle", "fontSize": 15, "fontWeight": "bold", "dx": 0, "color": "#d1d4dc"},
          "encoding": {"y": {"datum": 116.4, "axis": null}, "x": {"datum": {"year": 2021, "month": 10, "date": 27, "hours": 2, "minutes": 11, "utc": true}, "type": "temporal"}}
        },
        {
          "mark": {"type": "text", "text": "TradingView", "align": "left", "baseline": "middle", "fontSize": 13, "fontWeight": 500, "dx": 21, "color": "#d1d4dc"},
          "encoding": {"y": {"datum": 116.4, "axis": null}, "x": {"datum": {"year": 2021, "month": 10, "date": 27, "hours": 2, "minutes": 11, "utc": true}, "type": "temporal"}}
        }
      ]
    },
    {
      "layer": [
        {
          "data": {"name": "osc"},
          "mark": {"type": "area", "color": "#0b0bf5", "opacity": 1, "interpolate": "linear", "clip": true},
          "encoding": {
            "x": {"field": "d", "type": "temporal"},
            "y": {
              "field": "yel", "type": "quantitative",
              "scale": {"domain": [-41, 445], "nice": false, "zero": false},
              "axis": {
                "orient": "right", "offset": -70, "title": null, "values": [0], "format": ".1f", "zindex": 1,
                "grid": false, "ticks": false, "labelPadding": 11, "domain": false,
                "labelColor": "#b2b5be", "labelFontSize": 12, "labelFont": "Roboto", "labelFlush": false
              }
            },
            "y2": {"field": "blu"}
          }
        },
        {
          "mark": {"type": "rule", "color": "#8b1616", "strokeWidth": 3},
          "encoding": {
            "y": {"datum": 8},
            "x": {"datum": {"year": 2021, "month": 10, "date": 27, "hours": 2, "minutes": 11, "utc": true}, "type": "temporal"},
            "x2": {"datum": {"year": 2022, "month": 3, "date": 21, "utc": true}}
          }
        },
        {
          "mark": {"type": "rule", "color": "#1b5e20", "strokeWidth": 2},
          "encoding": {
            "y": {"datum": -7},
            "x": {"datum": {"year": 2021, "month": 10, "date": 27, "hours": 2, "minutes": 11, "utc": true}, "type": "temporal"},
            "x2": {"datum": {"year": 2022, "month": 3, "date": 21, "utc": true}}
          }
        },
        {
          "data": {"name": "osc"},
          "mark": {"type": "line", "color": "#000000", "strokeWidth": 2, "clip": true},
          "encoding": {
            "x": {"field": "d", "type": "temporal"},
            "y": {"field": "blu", "type": "quantitative"}
          }
        },
        {
          "data": {"name": "osc"},
          "mark": {"type": "line", "color": "#ffff00", "strokeWidth": 3.5, "clip": true},
          "encoding": {
            "x": {"field": "d", "type": "temporal"},
            "y": {"field": "yel", "type": "quantitative"}
          }
        },
        {
          "data": {"name": "osc"},
          "mark": {"type": "line", "color": "#2196f3", "strokeWidth": 1.5, "clip": true},
          "encoding": {
            "x": {"field": "d", "type": "temporal"},
            "y": {"field": "lb", "type": "quantitative"}
          }
        },
        {
          "data": {"name": "oscsig"},
          "mark": {"type": "circle", "size": 125, "opacity": 0.85},
          "encoding": {
            "x": {"field": "d", "type": "temporal"},
            "y": {"field": "v", "type": "quantitative"},
            "color": {"condition": {"test": "datum.s == 'b'", "value": "#0ec40e"}, "value": "#c40e0e"}
          }
        }
      ]
    }
  ],
  "resolve": {"scale": {"y": "independent"}}
}
